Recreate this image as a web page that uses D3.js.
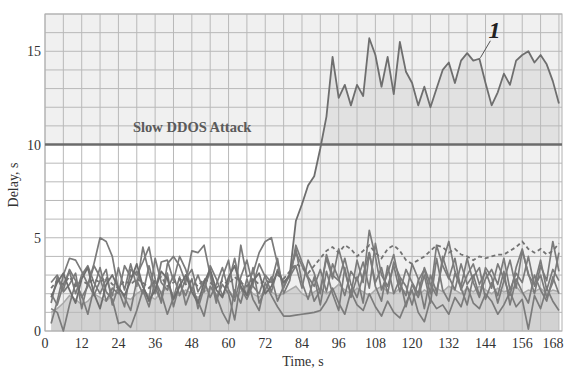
<!DOCTYPE html>
<html>
<head>
<meta charset="utf-8">
<script src="https://cdn.jsdelivr.net/npm/d3@7"></script>
<style>
  body { margin: 0; background: #fff; }
  svg { display: block; }
  text { font-family: "Liberation Serif", "DejaVu Serif", serif; fill: #333; }
</style>
</head>
<body>
<div id="chart"></div>
<script>
'use strict';

// sampling times, s
var times = d3.range(2, 170, 2);
var xTicks = [0, 12, 24, 36, 48, 60, 72, 84, 96, 108, 120, 132, 144, 156, 168];
var yTicks = [0, 5, 10, 15];
var threshold = 10;

// curve 1 - delay under slow DDOS attack
var attack = [
  1.8, 2.6, 3.1, 2.2, 1.5, 2.8, 3.4, 2.0, 1.2, 2.5, 3.0, 2.3,
  1.9, 2.7, 3.6, 2.4, 1.6, 2.2, 3.2, 2.8, 1.7, 2.4, 3.0, 2.1,
  1.5, 2.6, 3.3, 2.2, 1.8, 2.9, 3.5, 2.4, 1.9, 2.7, 3.1, 2.0,
  2.4, 3.2, 2.6, 3.0, 5.9, 6.8, 7.8, 8.3, 9.8, 11.5, 14.7, 12.5,
  13.2, 12.1, 13.2, 12.6, 15.7, 14.8, 13.1, 14.7, 12.7, 15.5, 13.9, 13.3,
  12.1, 13.1, 12.0, 13.0, 14.0, 14.4, 13.3, 14.5, 14.9, 14.5, 14.6, 13.3,
  12.1, 12.8, 13.8, 13.2, 14.5, 14.8, 15.0, 14.4, 14.8, 14.3, 13.4, 12.2
];

// normal traffic delays
var normalA = [
  0.4, 1.6, 3.0, 3.9, 3.8, 3.2, 2.5, 3.6, 5.0, 4.8, 4.0, 2.2,
  1.3, 3.3, 3.0, 3.7, 4.5, 2.8, 1.5, 3.6, 4.0, 3.5, 2.6, 4.3,
  4.2, 4.6, 3.0, 1.5, 2.9, 3.8, 1.8, 4.6, 2.9, 3.1, 4.2, 4.8,
  5.0, 3.6, 2.3, 3.1, 4.2, 3.5, 2.8, 1.6, 2.2, 3.9, 2.8, 4.4,
  3.2, 2.0, 3.8, 2.6, 5.4, 4.0, 2.2, 3.1, 4.1, 2.5, 1.9, 3.6,
  2.8, 1.2, 3.0, 2.1, 3.7, 4.8, 3.2, 2.4, 3.9, 2.6, 1.8, 3.4,
  2.9, 1.5, 2.7, 3.8, 2.3, 4.3, 3.1, 2.0, 3.5, 2.7, 4.8, 3.2
];
var normalB = [
  1.2, 1.0, 0.0, 1.4, 2.6, 1.9, 0.9, 2.3, 3.4, 2.1, 1.7, 0.4,
  0.5, 0.2, 1.1, 2.2, 1.3, 2.7, 2.0, 0.9, 1.8, 2.9, 1.4, 2.3,
  1.6, 0.8, 2.4, 1.9, 1.0, 0.4, 2.2, 1.5, 2.8, 1.7, 1.1, 2.6,
  1.9, 1.3, 0.8, 0.8, 0.85, 0.9, 0.95, 1.0, 1.1, 1.6, 2.3, 1.5,
  0.9, 2.1, 1.4, 1.1, 2.0, 1.3, 0.8, 1.6, 1.0, 0.7, 1.5, 2.2,
  1.0, 0.5, 1.7, 1.2, 1.4, 0.9, 1.8, 1.3, 2.4, 1.5, 1.2, 2.0,
  1.6, 0.9, 1.4, 2.1, 1.3, 1.7, 0.1, 1.9, 1.2, 2.3, 1.6, 1.1
];
var normalC = [
  2.6, 3.0, 2.2, 3.3, 2.7, 1.8, 2.4, 3.5, 2.9, 1.6, 2.3, 2.0,
  3.5, 2.9, 3.2, 2.4, 1.7, 3.9, 2.6, 2.2, 3.0, 1.9, 2.8, 3.3,
  2.1, 2.7, 1.8, 2.5, 3.4, 2.2, 1.6, 2.9, 3.8, 2.4, 2.0, 3.0,
  2.6, 3.9, 2.0, 2.7, 4.6, 3.7, 2.9, 2.4, 3.3, 2.1, 3.6, 2.8,
  1.9, 3.2, 2.7, 3.7, 2.3, 4.7, 3.0, 2.4, 3.5, 2.1, 3.3, 2.6,
  2.0, 3.4, 2.5, 1.9, 4.0, 2.9, 2.2, 3.6, 2.5, 3.0, 1.9, 2.8,
  3.3, 2.5, 3.9, 2.2, 3.1, 2.6, 4.0, 2.4, 3.0, 1.8, 2.6, 4.2
];
var normalD = [
  1.5, 2.9, 2.1, 2.5, 3.1, 1.2, 2.6, 1.9, 2.7, 3.3, 1.4, 2.4,
  1.8, 1.1, 2.7, 2.0, 3.5, 2.3, 1.6, 3.1, 1.3, 2.5, 1.9, 2.8,
  1.2, 2.3, 3.2, 1.7, 2.5, 2.0, 0.6, 2.7, 1.9, 3.4, 1.5, 2.2,
  2.9, 1.6, 2.4, 3.0, 4.4, 2.6, 1.7, 2.9, 1.4, 3.2, 2.0, 1.1,
  3.4, 1.8, 2.9, 1.5, 4.2, 2.4, 1.6, 3.5, 2.0, 2.8, 1.3, 2.5,
  1.8, 3.0, 1.5, 3.9, 2.2, 1.6, 3.1, 2.3, 1.4, 2.9, 3.4, 1.7,
  2.6, 1.9, 3.2, 1.4, 2.8, 2.1, 1.5, 3.0, 2.2, 1.6, 2.9, 2.0
];
var normalE = [
  2.0, 1.4, 2.5, 3.2, 2.0, 3.0, 3.5, 2.6, 2.0, 2.8, 1.9, 3.4,
  2.2, 3.6, 2.4, 4.5, 3.1, 2.0, 3.7, 3.8, 2.7, 4.0, 3.3, 2.2,
  3.0, 2.1, 3.5, 2.8, 1.9, 2.6, 3.9, 2.3, 1.7, 2.5, 3.6, 2.9,
  2.1, 3.3, 2.6, 2.9, 3.5, 2.3, 3.8, 3.1, 2.0, 4.1, 3.0, 2.7,
  3.9, 2.5, 1.8, 3.0, 4.2, 2.6, 3.4, 2.0, 3.7, 2.9, 2.4, 1.4,
  2.7, 3.3, 2.0, 4.6, 3.5, 2.8, 3.9, 2.2, 3.0, 3.6, 2.5, 3.2,
  2.3, 3.6, 2.8, 1.9, 3.4, 4.4, 3.0, 2.5, 3.8, 2.2, 3.3, 2.7
];
var dashed = [
  2.3, 2.7, 2.5, 2.9, 2.4, 2.7, 2.5, 2.8, 2.6, 2.9, 2.5, 2.3,
  2.7, 2.5, 2.8, 2.6, 2.3, 2.7, 2.9, 2.4, 2.6, 2.8, 2.5, 2.7,
  2.4, 2.8, 2.6, 2.3, 2.7, 2.5, 2.9, 2.6, 2.4, 2.8, 2.5, 2.7,
  2.6, 3.0, 2.8, 3.2, 3.6, 3.4, 3.1, 3.5, 3.9, 4.3, 4.5, 4.2,
  4.6, 4.4, 4.0, 4.3, 4.6, 4.2, 3.9, 4.4, 4.6, 4.3, 3.8, 3.6,
  3.8, 4.0, 4.3, 4.6, 4.5, 4.2, 4.4, 4.1, 4.0, 3.8, 4.0, 3.9,
  4.0, 4.1, 4.1, 4.3, 4.5, 4.8, 4.4, 4.2, 4.4, 4.1, 4.3, 4.7
];
var baseline = [
  1.0, 1.2, 1.5, 1.9, 1.7, 1.4, 1.6, 2.0, 1.8, 1.6, 1.9, 2.1,
  1.8, 1.7, 2.0, 2.2, 1.9, 1.7, 2.1, 2.3, 2.0, 1.9, 2.2, 2.0,
  1.8, 2.1, 2.3, 2.0, 1.9, 2.2, 1.8, 2.1, 2.4, 2.0, 1.8, 2.2,
  2.1, 1.9, 2.0, 2.2, 2.4, 2.0, 1.8, 2.1, 2.3, 2.0, 2.2, 2.5,
  2.2, 2.0, 2.3, 2.1, 1.9, 2.2, 2.4, 2.1, 2.0, 2.3, 2.1, 2.0,
  1.9, 2.2, 2.0, 2.3, 2.1, 2.4, 2.2, 2.0, 2.3, 2.1, 2.4, 2.2,
  2.0, 2.3, 2.1, 2.2, 2.4, 2.0, 2.2, 2.1, 2.3, 2.0, 2.2, 2.1
];

var width = 565, height = 370;
var margin = {top: 14, right: 3, bottom: 39, left: 45};

var svg = d3.select('#chart').append('svg')
  .attr('width', width)
  .attr('height', height);

var x = d3.scaleLinear().domain([0, 169]).range([margin.left, width - margin.right]);
var y = d3.scaleLinear().domain([0, 17]).range([height - margin.bottom, margin.top]);

var pts = function(vals) {
  return vals.map(function(v, i) { return [times[i], v]; });
};

var line = d3.line()
  .x(function(d) { return x(d[0]); })
  .y(function(d) { return y(d[1]); });

var area = d3.area()
  .x(function(d) { return x(d[0]); })
  .y0(y(0))
  .y1(function(d) { return y(d[1]); });

// backgrounds
svg.append('rect')
  .attr('x', x(0)).attr('y', y(17))
  .attr('width', x(169) - x(0)).attr('height', y(threshold) - y(17))
  .attr('fill', '#000').attr('fill-opacity', 0.06);

svg.append('path')
  .datum(pts(attack))
  .attr('d', area)
  .attr('fill', '#000').attr('fill-opacity', 0.06);

svg.append('path')
  .datum(pts(baseline))
  .attr('d', area)
  .attr('fill', '#d2d2d2');

// grid
var g = svg.append('g');
g.selectAll('line.vx')
  .data(d3.range(0, 169, 6))
  .enter().append('line')
  .attr('x1', function(d) { return x(d); })
  .attr('x2', function(d) { return x(d); })
  .attr('y1', y(0)).attr('y2', y(17))
  .attr('stroke', '#b9b9b9').attr('stroke-width', 1);
g.selectAll('line.hy')
  .data(d3.range(0, 18, 1))
  .enter().append('line')
  .attr('y1', function(d) { return y(d); })
  .attr('y2', function(d) { return y(d); })
  .attr('x1', x(0)).attr('x2', x(169))
  .attr('stroke', '#b9b9b9').attr('stroke-width', 1);
svg.append('rect')
  .attr('x', x(0)).attr('y', y(17))
  .attr('width', x(169) - x(0)).attr('height', y(0) - y(17))
  .attr('fill', 'none').attr('stroke', '#b0b0b0');

// threshold
svg.append('line')
  .attr('x1', x(0)).attr('x2', x(169))
  .attr('y1', y(threshold)).attr('y2', y(threshold))
  .attr('stroke', '#6b6b6b').attr('stroke-width', 2.6);
svg.append('text')
  .attr('x', 133).attr('y', y(threshold) - 13)
  .attr('font-size', 14.5).attr('font-weight', 'bold')
  .style('fill', '#5a5a5a')
  .text('Slow DDOS Attack');

// series
svg.append('path')
  .datum(pts(baseline))
  .attr('d', line)
  .attr('fill', 'none').attr('stroke', '#a9a9a9').attr('stroke-width', 1.5);

[normalA, normalB, normalC, normalD, normalE].forEach(function(s) {
  svg.append('path')
    .datum(pts(s))
    .attr('d', line)
    .attr('fill', 'none')
    .attr('stroke', '#7b7b7b')
    .attr('stroke-width', 1.7)
    .attr('stroke-linejoin', 'round');
});

svg.append('path')
  .datum(pts(dashed))
  .attr('d', line)
  .attr('fill', 'none').attr('stroke', '#737373')
  .attr('stroke-width', 1.8).attr('stroke-dasharray', '4,3');

svg.append('path')
  .datum(pts(attack))
  .attr('d', line)
  .attr('fill', 'none').attr('stroke', '#6e6e6e')
  .attr('stroke-width', 1.8).attr('stroke-linejoin', 'round');

// label "1"
var lab = pts(attack)[70];
svg.append('line')
  .attr('x1', x(lab[0]) + 1).attr('y1', y(lab[1]) - 1)
  .attr('x2', x(lab[0]) + 11).attr('y2', y(lab[1]) - 18)
  .attr('stroke', '#555').attr('stroke-width', 1);
svg.append('text')
  .attr('x', x(lab[0]) + 9).attr('y', y(lab[1]) - 21)
  .attr('font-size', 24).attr('font-weight', 'bold').attr('font-style', 'italic')
  .style('fill', '#222')
  .text('1');

// axes labels
svg.selectAll('text.xt')
  .data(xTicks)
  .enter().append('text')
  .attr('x', function(d) { return Math.min(x(d), width - 12); })
  .attr('y', y(0) + 17)
  .attr('text-anchor', 'middle')
  .attr('font-size', 14)
  .text(function(d) { return d; });

svg.selectAll('text.yt')
  .data(yTicks)
  .enter().append('text')
  .attr('x', x(0) - 4)
  .attr('y', function(d) { return y(d) + 5; })
  .attr('text-anchor', 'end')
  .attr('font-size', 14)
  .text(function(d) { return d; });

svg.append('text')
  .attr('x', x(84) + 1).attr('y', height - 4)
  .attr('text-anchor', 'middle')
  .attr('font-size', 14)
  .text('Time, s');

svg.append('text')
  .attr('transform', 'translate(18,' + 185 + ') rotate(-90)')
  .attr('text-anchor', 'middle')
  .attr('font-size', 14)
  .text('Delay, s');
</script>
</body>
</html>
